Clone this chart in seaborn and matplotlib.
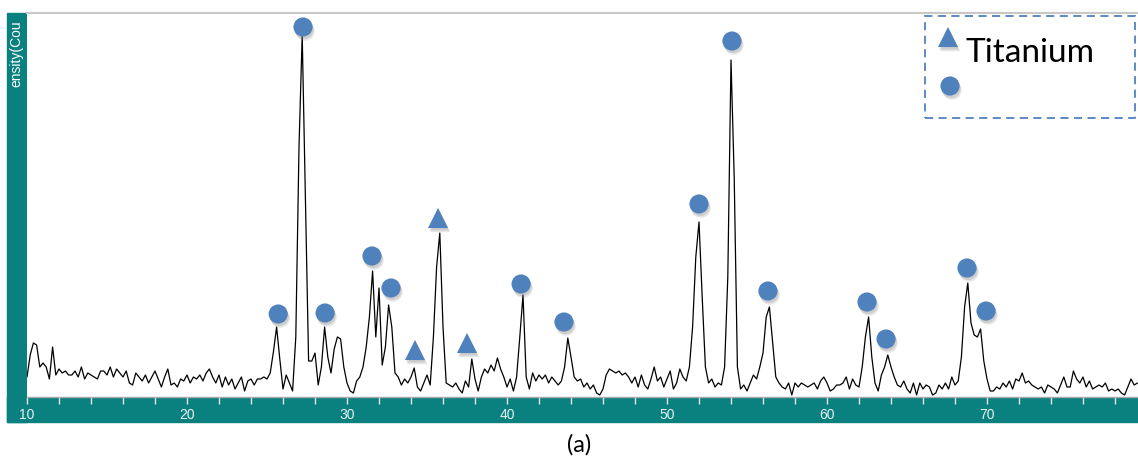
import numpy as np
import matplotlib
matplotlib.use('Agg')
import matplotlib.pyplot as plt
import matplotlib.patheffects as pe
from matplotlib.patches import Rectangle
import seaborn as sns

# XRD scan, 2-theta from 10.0 to 79.4 in 0.2 deg steps (intensity)
counts = [
    20, 42, 54, 52, 30, 34, 30, 18, 50, 22,      # 10
    28, 24, 26, 22, 22, 26, 20, 30, 18, 24,      # 12
    22, 20, 18, 26, 26, 22, 30, 20, 28, 24,      # 14
    20, 26, 14, 12, 24, 20, 16, 22, 14, 20,      # 16
    26, 18, 10, 20, 28, 12, 14, 10, 18, 16,      # 18
    22, 14, 20, 18, 22, 16, 24, 28, 20, 14,      # 20
    22, 10, 20, 12, 18, 8, 14, 20, 6, 16,        # 22
    18, 12, 18, 18, 20, 18, 24, 45, 70, 38,      # 24
    8, 22, 14, 6, 60, 250, 362, 200, 36, 36,     # 26
    44, 12, 30, 70, 40, 24, 48, 60, 58, 30,      # 28
    14, 6, 4, 16, 20, 30, 50, 80, 126, 60,       # 30
    109, 32, 50, 92, 70, 24, 20, 12, 18, 14,     # 32
    20, 29, 10, 6, 14, 22, 12, 60, 130, 164,     # 34
    70, 14, 12, 10, 14, 8, 4, 16, 10, 38,        # 36
    18, 6, 20, 28, 24, 32, 26, 39, 28, 20,       # 38
    10, 18, 6, 20, 60, 102, 20, 8, 24, 16,       # 40
    22, 18, 22, 14, 20, 16, 12, 16, 30, 59,      # 42
    40, 20, 16, 18, 10, 14, 8, 12, 4, 2,         # 44
    8, 22, 28, 26, 24, 26, 22, 24, 20, 14,       # 46
    20, 10, 22, 12, 8, 18, 30, 16, 20, 10,       # 48
    18, 26, 8, 14, 28, 20, 16, 30, 70, 140,      # 50
    175, 100, 30, 14, 18, 10, 14, 12, 30, 120,   # 52
    337, 220, 30, 8, 12, 6, 14, 22, 18, 30,      # 54
    44, 80, 90, 55, 20, 14, 10, 8, 14, 2,        # 56
    14, 10, 14, 12, 10, 12, 14, 8, 16, 20,       # 58
    14, 6, 8, 12, 12, 14, 20, 8, 18, 12,         # 60
    10, 30, 60, 80, 40, 14, 6, 22, 30, 42,       # 62
    30, 20, 12, 10, 16, 8, 4, 14, 2, 14,         # 64
    8, 12, 10, 2, 4, 12, 8, 14, 8, 20,           # 66
    12, 16, 40, 90, 114, 74, 62, 60, 68, 36,     # 68
    18, 6, 6, 10, 8, 14, 10, 16, 8, 18,          # 70
    16, 24, 14, 16, 12, 10, 8, 10, 4, 12,        # 72
    10, 8, 4, 12, 20, 10, 10, 26, 18, 14,        # 74
    20, 10, 16, 8, 10, 12, 10, 14, 6, 8,         # 76
    6, 8, 4, 2, 10, 18, 12, 14,                  # 78
]
two_theta = np.round(10 + 0.2 * np.arange(len(counts)), 1)

# peak markers
circle_x = [25.7, 27.25, 28.63, 31.56, 32.75, 40.88, 43.56, 52.0, 54.06, 56.31, 62.5, 63.69, 68.75, 69.94]
circle_y = [83, 370, 84, 141, 109, 113, 75, 193, 356, 106, 95, 58, 129, 86]
tri_x = [34.25, 35.69, 37.5]
tri_y = [47, 179, 54]

legend_label = 'Titanium'
caption = '(a)'
ylabel_text = 'ensity(Cou'

TEAL = '#0A807F'
BLUE = '#4F81BD'
W, H = 1138, 459


def fx(px):
    return px / W


def fy(py):
    return 1 - py / H


sns.set_theme(style='white')
plt.rcParams['font.family'] = ['Liberation Sans', 'DejaVu Sans']

fig = plt.figure(figsize=(W / 100, H / 100), dpi=100, facecolor='white')
ax = fig.add_axes([fx(27), fy(397), fx(1138) - fx(27), fy(13) - fy(397)])

# teal frame bars behind the axes
fig.add_artist(Rectangle((fx(7), fy(422)), fx(27) - fx(7), fy(13) - fy(422),
                         transform=fig.transFigure, color=TEAL, zorder=-1))
fig.add_artist(Rectangle((fx(7), fy(422)), 1 - fx(7), fy(397) - fy(422),
                         transform=fig.transFigure, color=TEAL, zorder=-1))

sns.lineplot(x=two_theta, y=counts, ax=ax, color='black', linewidth=0.9)

# soft drop shadow under the markers
shadow = [pe.SimplePatchShadow(offset=(1.5, -3), shadow_rgbFace='#777777', alpha=0.18),
          pe.SimplePatchShadow(offset=(0.8, -1.8), shadow_rgbFace='#777777', alpha=0.22),
          pe.Normal()]
ax.scatter(circle_x, circle_y, marker='o', s=190, color=BLUE, linewidths=0,
           zorder=5, clip_on=False, path_effects=shadow)
ax.scatter(tri_x, tri_y, marker='^', s=210, color=BLUE, linewidths=0,
           zorder=5, clip_on=False, path_effects=shadow)

ax.set_xlim(10, 10 + (1138 - 27) / 16)
ax.set_ylim(0, 384)
ax.set_xlabel('')
ax.set_ylabel('')
ax.set_yticks([])
ax.set_xticks(np.arange(10, 80, 10))
ax.set_xticks(np.arange(10, 80, 2), minor=True)
ax.tick_params(axis='x', which='both', bottom=True, direction='out', length=5, width=1,
               color='#E6F0F0', labelcolor='#E6F0F0', labelsize=10, pad=3)
for s in ['left', 'right']:
    ax.spines[s].set_visible(False)
ax.spines['top'].set_color('#C8C8C8')
ax.spines['top'].set_linewidth(1.5)
ax.spines['bottom'].set_color('#A8A8A8')
ax.spines['bottom'].set_linewidth(1)

# axis title cut off in the teal bar
fig.text(fx(16), fy(20), ylabel_text, rotation=90, ha='center', va='top',
         color='white', fontsize=10)

# legend box
fig.add_artist(Rectangle((fx(925), fy(118)), fx(1135) - fx(925), fy(16) - fy(118),
                         transform=fig.transFigure, fill=False, edgecolor=BLUE,
                         linewidth=1.3, linestyle=(0, (4.5, 3)), zorder=3))
ax.scatter([fx(948)], [fy(37)], marker='^', s=210, color=BLUE, linewidths=0,
           transform=fig.transFigure, clip_on=False, zorder=6, path_effects=shadow)
ax.scatter([fx(950)], [fy(86)], marker='o', s=190, color=BLUE, linewidths=0,
           transform=fig.transFigure, clip_on=False, zorder=6, path_effects=shadow)
fig.text(fx(965), fy(53), legend_label, ha='left', va='center', family='Lato',
         fontsize=24, color='black')

fig.text(fx(579), fy(445), caption, ha='center', va='center', family='Lato',
         fontsize=17, color='black')

fig.savefig('out.png', dpi=100, facecolor='white')
